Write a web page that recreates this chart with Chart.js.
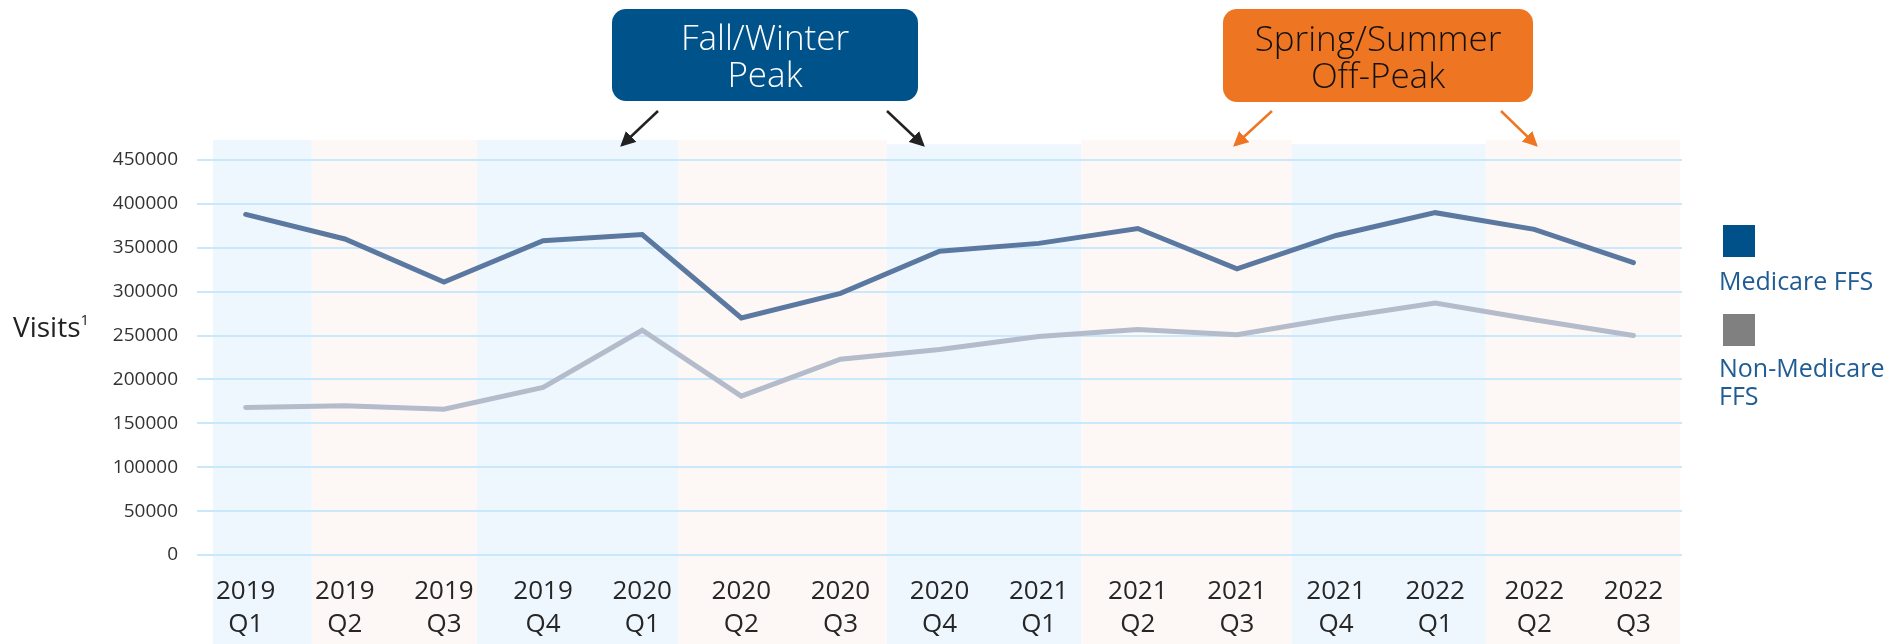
<!DOCTYPE html>
<html>
<head>
<meta charset="utf-8">
<script src="https://cdn.jsdelivr.net/npm/chart.js@4.4.1/dist/chart.umd.min.js"></script>
<style>
  body { margin: 0; background: #fff; }
  #wrap { position: relative; width: 1893px; height: 644px; overflow: hidden; font-family: "Open Sans", sans-serif; }
  #chart { position: absolute; left: 0; top: 0; }
  .callout {
    position: absolute; display: flex; align-items: center; justify-content: center;
    text-align: center; border-radius: 14px; font-size: 35px; line-height: 37px; font-weight: 300;
  }
  #fall { left: 612px; top: 9px; width: 306px; height: 92px; background: #00528a; color: #fff; }
  #spring { left: 1223px; top: 9px; width: 310px; height: 93px; background: #ee7623; color: #111; }
  #visits { position: absolute; left: 13px; top: 307px; font-size: 28px; color: #222; }
  #visits sup { font-size: 15px; vertical-align: 12px; }
  .lg-box { position: absolute; width: 32px; height: 32px; left: 1723px; }
  .lg-text { position: absolute; left: 1719px; font-size: 25px; line-height: 28px; color: #1f5c94; white-space: nowrap; }
  #arrows { position: absolute; left: 0; top: 0; }
</style>
</head>
<body>
<div id="wrap">
  <canvas id="chart" width="1893" height="644"></canvas>
  <div class="callout" id="fall">Fall/Winter<br>Peak</div>
  <div class="callout" id="spring">Spring/Summer<br>Off-Peak</div>
  <div id="visits">Visits<sup>1</sup></div>
  <div class="lg-box" style="top:225px;background:#005089"></div>
  <div class="lg-text" style="top:266px">Medicare FFS</div>
  <div class="lg-box" style="top:314px;background:#808080"></div>
  <div class="lg-text" style="top:353px">Non-Medicare<br>FFS</div>
  <svg id="arrows" width="1893" height="644">
    <defs>
      <marker id="hd" markerWidth="6" markerHeight="6" refX="5" refY="3" orient="auto" markerUnits="strokeWidth">
        <path d="M0,0 L6,3 L0,6 z" fill="#222"/>
      </marker>
      <marker id="ho" markerWidth="6" markerHeight="6" refX="5" refY="3" orient="auto" markerUnits="strokeWidth">
        <path d="M0,0 L6,3 L0,6 z" fill="#ee7623"/>
      </marker>
    </defs>
    <line x1="658" y1="111" x2="622" y2="145" stroke="#222" stroke-width="2.5" marker-end="url(#hd)"/>
    <line x1="887" y1="111" x2="923" y2="145" stroke="#222" stroke-width="2.5" marker-end="url(#hd)"/>
    <line x1="1272" y1="111" x2="1235" y2="145" stroke="#ee7623" stroke-width="2.5" marker-end="url(#ho)"/>
    <line x1="1501" y1="111" x2="1536" y2="145" stroke="#ee7623" stroke-width="2.5" marker-end="url(#ho)"/>
  </svg>
</div>

<script>
// ===== DATA =====
const quarters = [
  ["2019", "Q1"], ["2019", "Q2"], ["2019", "Q3"], ["2019", "Q4"],
  ["2020", "Q1"], ["2020", "Q2"], ["2020", "Q3"], ["2020", "Q4"],
  ["2021", "Q1"], ["2021", "Q2"], ["2021", "Q3"], ["2021", "Q4"],
  ["2022", "Q1"], ["2022", "Q2"], ["2022", "Q3"]
];

const medicare = [388000, 360000, 311000, 358000, 365000, 270000, 298000, 346000,
                  355000, 372000, 326000, 364000, 390000, 371000, 333000];

const nonMedicare = [168000, 170000, 166000, 191000, 256000, 181000, 223000, 234000,
                     249000, 257000, 251000, 270000, 287000, 268000, 250000];

const yTicks = [0, 50000, 100000, 150000, 200000, 250000, 300000, 350000, 400000, 450000];

// season shading: edges in quarter index units, top of each band as a value
const bandEdges = [-0.33, 0.667, 2.333, 4.367, 6.47, 8.43, 10.55, 12.51, 14.47];
const bandTops = [473000, 473000, 473000, 473000, 468000, 473000, 468000, 473000];
const bandColors = ["#eff7fe", "#fdf8f5"];

const FONT = "'Open Sans', sans-serif";


// ===== SEASON BANDS =====
const bandsPlugin = {
  id: "bands",
  beforeDraw(chart) {
    const ctx = chart.ctx;
    const xs = chart.scales.x;
    const ys = chart.scales.y;
    ctx.save();
    for (let i = 0; i < bandEdges.length - 1; i++) {
      const x0 = xs.getPixelForValue(bandEdges[i]);
      const x1 = xs.getPixelForValue(bandEdges[i + 1]);
      const top = ys.getPixelForValue(bandTops[i]);
      ctx.fillStyle = bandColors[i % 2];
      ctx.fillRect(x0, top, x1 - x0, chart.height - top);
    }
    ctx.restore();
  }
};


// ===== CHART =====
new Chart(document.getElementById("chart"), {
  type: "line",
  data: {
    datasets: [
      {
        label: "Medicare FFS",
        data: medicare.map((v, i) => ({ x: i, y: v })),
        borderColor: "#5b79a0",
        borderWidth: 5,
        borderCapStyle: "round",
        pointRadius: 0,
        tension: 0
      },
      {
        label: "Non-Medicare FFS",
        data: nonMedicare.map((v, i) => ({ x: i, y: v })),
        borderColor: "#b4bbcb",
        borderWidth: 5,
        borderCapStyle: "round",
        pointRadius: 0,
        tension: 0
      }
    ]
  },
  options: {
    responsive: false,
    animation: false,
    layout: { padding: { top: 160, right: 211, left: 0, bottom: 0 } },
    plugins: {
      legend: { display: false },
      tooltip: { enabled: false }
    },
    scales: {
      x: {
        type: "linear",
        min: -0.33,
        max: 14.49,
        grid: { display: false, drawTicks: false },
        border: { display: false },
        afterBuildTicks: (scale) => {
          scale.ticks = quarters.map((q, i) => ({ value: i }));
        },
        afterFit: (scale) => { scale.height = 89; },
        ticks: {
          callback: (v) => quarters[v],
          color: "#262626",
          font: { family: FONT, size: 26, lineHeight: 1.27 },
          padding: 20,
          maxRotation: 0,
          autoSkip: false
        }
      },
      y: {
        min: 0,
        max: 450000,
        grid: { color: "#c9e8fb", lineWidth: 2, tickLength: 16 },
        border: { display: false },
        afterBuildTicks: (scale) => {
          scale.ticks = yTicks.map(v => ({ value: v }));
        },
        afterFit: (scale) => { scale.width = 213; },
        ticks: {
          callback: (v) => String(v),
          color: "#333",
          font: { family: FONT, size: 19 },
          padding: 19
        }
      }
    }
  },
  plugins: [bandsPlugin]
});
</script>
</body>
</html>
